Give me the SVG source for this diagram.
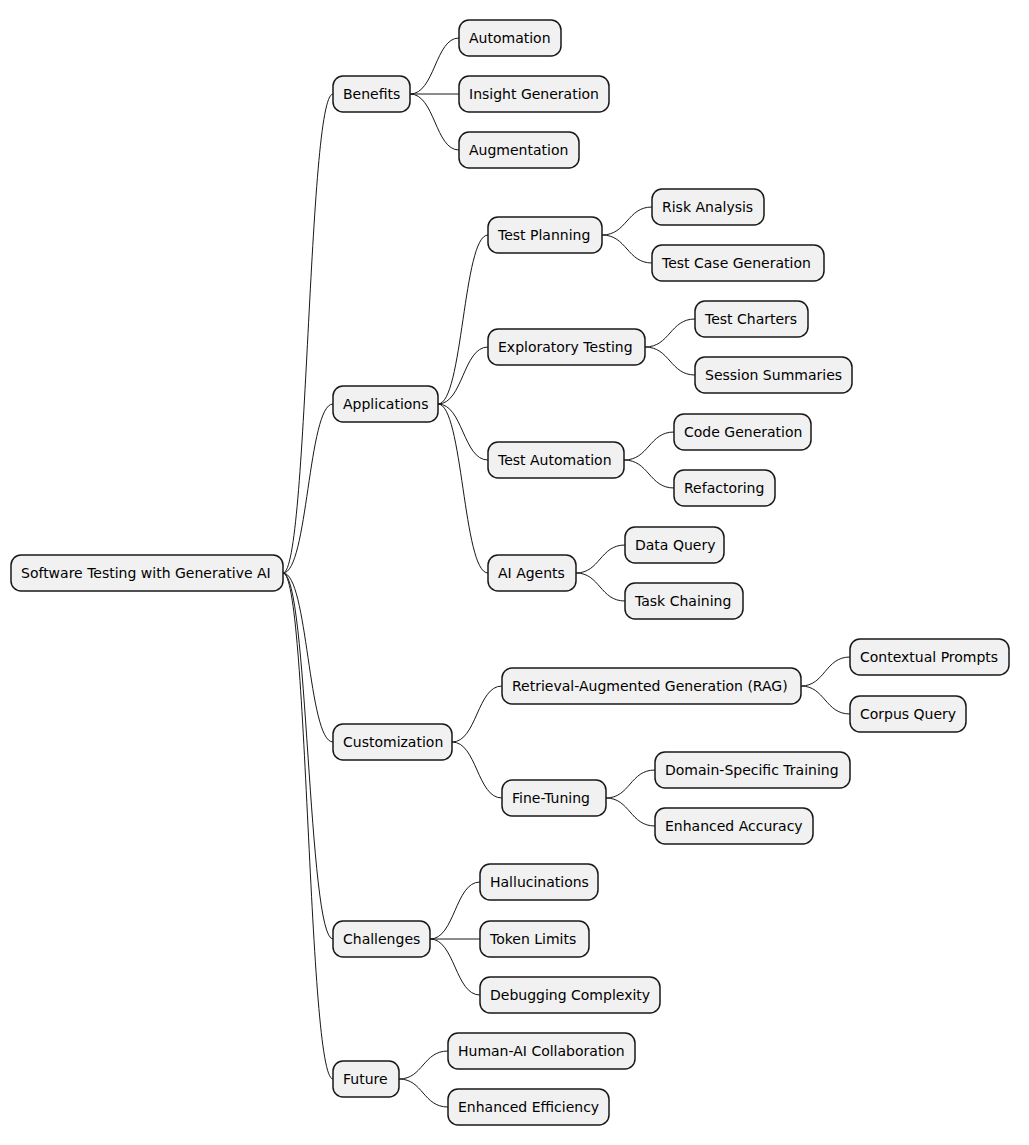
<svg xmlns="http://www.w3.org/2000/svg" width="1029" height="1145" viewBox="0 0 1029 1145">
<style>
.n rect{fill:#F1F1F1;stroke:#181818;stroke-width:1.5}
.n text{font-family:"DejaVu Sans",sans-serif;font-size:14px;fill:#000}
#c path{fill:none;stroke:#181818;stroke-width:1}
</style>
<rect width="1029" height="1145" fill="#fff"/>
<g id="c">
<path d="M283,573 C308,573 308,94 333,94"/>
<path d="M283,573 C308,573 308,404 333,404"/>
<path d="M283,573 C308,573 308,742 333,742"/>
<path d="M283,573 C308,573 308,939 333,939"/>
<path d="M283,573 C308,573 308,1079 333,1079"/>
<path d="M410,94 C435,94 435,38 459,38"/>
<path d="M410,94 L459,94"/>
<path d="M410,94 C435,94 435,150 459,150"/>
<path d="M438,404 C463,404 463,235 488,235"/>
<path d="M438,404 C463,404 463,347 488,347"/>
<path d="M438,404 C463,404 463,460 488,460"/>
<path d="M438,404 C463,404 463,573 488,573"/>
<path d="M602,235 C627,235 627,207 652,207"/>
<path d="M602,235 C627,235 627,263 652,263"/>
<path d="M645,347 C670,347 670,319 695,319"/>
<path d="M645,347 C670,347 670,375 695,375"/>
<path d="M624,460 C649,460 649,432 674,432"/>
<path d="M624,460 C649,460 649,488 674,488"/>
<path d="M576,573 C600,573 600,545 625,545"/>
<path d="M576,573 C600,573 600,601 625,601"/>
<path d="M452,742 C477,742 477,686 502,686"/>
<path d="M452,742 C477,742 477,798 502,798"/>
<path d="M801,686 C825,686 825,657 850,657"/>
<path d="M801,686 C825,686 825,714 850,714"/>
<path d="M606,798 C630,798 630,770 655,770"/>
<path d="M606,798 C630,798 630,826 655,826"/>
<path d="M430,939 C455,939 455,882 480,882"/>
<path d="M430,939 L480,939"/>
<path d="M430,939 C455,939 455,995 480,995"/>
<path d="M399,1079 C423,1079 423,1051 448,1051"/>
<path d="M399,1079 C423,1079 423,1107 448,1107"/>
</g>
<g id="root" class="n"><rect x="11" y="555" width="272" height="36" rx="10"/><text x="21" y="578">Software Testing with Generative AI</text></g>
<g id="benefits" class="n"><rect x="333" y="76" width="77" height="36" rx="10"/><text x="343" y="99">Benefits</text></g>
<g id="automation" class="n"><rect x="459" y="20" width="102" height="36" rx="10"/><text x="469" y="43">Automation</text></g>
<g id="insight" class="n"><rect x="459" y="76" width="150" height="36" rx="10"/><text x="469" y="99">Insight Generation</text></g>
<g id="augmentation" class="n"><rect x="459" y="132" width="120" height="36" rx="10"/><text x="469" y="155">Augmentation</text></g>
<g id="applications" class="n"><rect x="333" y="386" width="105" height="36" rx="10"/><text x="343" y="409">Applications</text></g>
<g id="testplanning" class="n"><rect x="488" y="217" width="114" height="36" rx="10"/><text x="498" y="240">Test Planning</text></g>
<g id="risk" class="n"><rect x="652" y="189" width="112" height="36" rx="10"/><text x="662" y="212">Risk Analysis</text></g>
<g id="tcgen" class="n"><rect x="652" y="245" width="172" height="36" rx="10"/><text x="662" y="268">Test Case Generation</text></g>
<g id="exploratory" class="n"><rect x="488" y="329" width="157" height="36" rx="10"/><text x="498" y="352">Exploratory Testing</text></g>
<g id="charters" class="n"><rect x="695" y="301" width="113" height="36" rx="10"/><text x="705" y="324">Test Charters</text></g>
<g id="sessions" class="n"><rect x="695" y="357" width="157" height="36" rx="10"/><text x="705" y="380">Session Summaries</text></g>
<g id="testauto" class="n"><rect x="488" y="442" width="136" height="36" rx="10"/><text x="498" y="465">Test Automation</text></g>
<g id="codegen" class="n"><rect x="674" y="414" width="137" height="36" rx="10"/><text x="684" y="437">Code Generation</text></g>
<g id="refactoring" class="n"><rect x="674" y="470" width="101" height="36" rx="10"/><text x="684" y="493">Refactoring</text></g>
<g id="agents" class="n"><rect x="488" y="555" width="88" height="36" rx="10"/><text x="498" y="578">AI Agents</text></g>
<g id="dataquery" class="n"><rect x="625" y="527" width="99" height="36" rx="10"/><text x="635" y="550">Data Query</text></g>
<g id="taskchain" class="n"><rect x="625" y="583" width="118" height="36" rx="10"/><text x="635" y="606">Task Chaining</text></g>
<g id="custom" class="n"><rect x="333" y="724" width="119" height="36" rx="10"/><text x="343" y="747">Customization</text></g>
<g id="rag" class="n"><rect x="502" y="668" width="299" height="36" rx="10"/><text x="512" y="691">Retrieval-Augmented Generation (RAG)</text></g>
<g id="ctxprompts" class="n"><rect x="850" y="639" width="159" height="36" rx="10"/><text x="860" y="662">Contextual Prompts</text></g>
<g id="corpus" class="n"><rect x="850" y="696" width="116" height="36" rx="10"/><text x="860" y="719">Corpus Query</text></g>
<g id="finetune" class="n"><rect x="502" y="780" width="104" height="36" rx="10"/><text x="512" y="803">Fine-Tuning</text></g>
<g id="domain" class="n"><rect x="655" y="752" width="195" height="36" rx="10"/><text x="665" y="775">Domain-Specific Training</text></g>
<g id="accuracy" class="n"><rect x="655" y="808" width="158" height="36" rx="10"/><text x="665" y="831">Enhanced Accuracy</text></g>
<g id="challenges" class="n"><rect x="333" y="921" width="97" height="36" rx="10"/><text x="343" y="944">Challenges</text></g>
<g id="halluc" class="n"><rect x="480" y="864" width="118" height="36" rx="10"/><text x="490" y="887">Hallucinations</text></g>
<g id="tokens" class="n"><rect x="480" y="921" width="109" height="36" rx="10"/><text x="490" y="944">Token Limits</text></g>
<g id="debug" class="n"><rect x="480" y="977" width="180" height="36" rx="10"/><text x="490" y="1000">Debugging Complexity</text></g>
<g id="future" class="n"><rect x="333" y="1061" width="66" height="36" rx="10"/><text x="343" y="1084">Future</text></g>
<g id="humanai" class="n"><rect x="448" y="1033" width="187" height="36" rx="10"/><text x="458" y="1056">Human-AI Collaboration</text></g>
<g id="efficiency" class="n"><rect x="448" y="1089" width="161" height="36" rx="10"/><text x="458" y="1112">Enhanced Efficiency</text></g>
</svg>
